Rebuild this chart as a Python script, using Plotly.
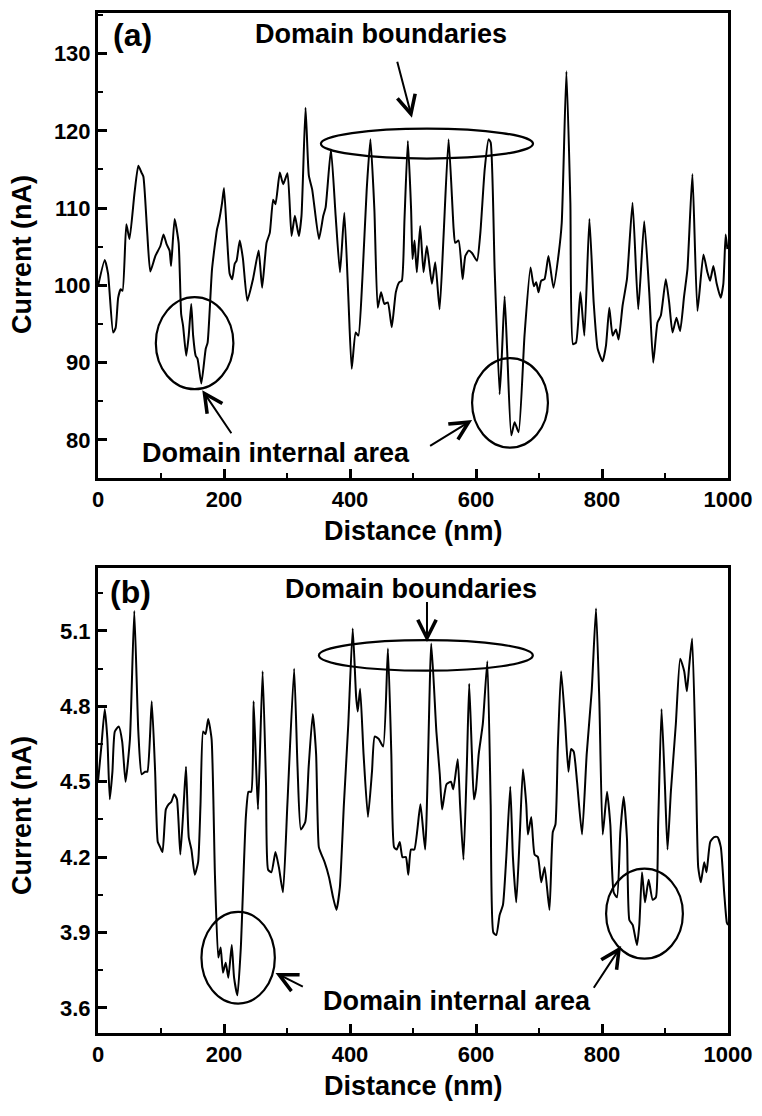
import plotly.graph_objects as go

# ---------------- data ----------------
xa = [0, 10.7, 16, 24, 28, 32, 36, 39, 45, 50, 58, 64, 69, 72, 78, 83, 91, 99, 104, 109,
      113.6, 116, 121.6, 128, 132, 135, 140, 144, 148, 151, 155, 158, 164, 171, 174, 181,
      189, 192, 197, 200, 205, 209, 213, 217, 220, 225, 230, 237, 246, 255, 260.5, 267.5,
      272.7, 278, 281.7, 288.6, 293.9, 300.8, 307.2, 312.5, 318.8, 323, 329.4, 334.7, 340,
      350.7, 357.6, 361.3, 369.8, 377.2, 384.1, 391, 397.3, 402.7, 409, 413.3, 419.6, 426.5,
      432.4, 438.7, 444, 449.3, 454.6, 460, 466.3, 472.7, 478, 482.2, 486.5, 491.8, 497,
      499.2, 502.4, 506.1, 511.4, 516.7, 522, 530, 535.3, 542.2, 548.5, 556.5, 564.5, 567,
      572.4, 578.8, 583, 588.3, 593.6, 601.6, 606.9, 613.8, 620, 623.3, 629.6, 637.5, 641.2,
      645.4, 649.6, 656, 661.3, 667.6, 677, 686.5, 691.8, 695.6, 699.2, 703.4, 708.7, 715,
      723, 731.4, 736.1, 743.5, 749.8, 754, 758.8, 765.7, 772, 780, 786.8, 793.1, 801, 806.3,
      811.6, 816.9, 822.2, 826.4, 832.7, 839.6, 848.5, 857.5, 867, 875, 881.3, 888.1, 893.4,
      901.3, 906.6, 911.9, 918.2, 924, 930.3, 935.6, 943.5, 951.5, 961, 967.3, 971.5, 976.8,
      982.1, 988.4, 992.6, 996.3, 999]
ya = [99.9, 103.3, 101.5, 93.9, 94.5, 98.4, 99.5, 99.3, 107.9, 106.0, 112, 115.5, 114.6, 114.1,
      107, 101.8, 103.8, 105.1, 106.6, 105.3, 104.5, 102.5, 108.6, 105.5, 96.3, 94.8, 90.9,
      93.5, 97.6, 93.5, 90.9, 90.5, 87.3, 91.8, 92.6, 102.1, 107.3, 108.3, 110.7, 112.6, 106,
      101.5, 100.8, 102.8, 103.2, 105.8, 103.5, 98, 100.8, 104.5, 99.7, 105.5, 106.8, 111.1,
      110.5, 114.6, 113.1, 114.5, 106.4, 109, 106.4, 109, 123, 114.2, 112.4, 106, 109, 110.1,
      117.6, 109, 101.7, 109.4, 98.6, 89.2, 93.9, 93.5, 100.8, 112.4, 118.9, 109.8, 97.1,
      99.1, 97.6, 97.8, 94.6, 99.1, 100.4, 100.6, 108.6, 118.7, 109.8, 103.4, 105.8, 101.7,
      107.7, 101.7, 105.1, 100.2, 103, 96.9, 106.4, 118.9, 107.3, 105.5, 105.8, 100.8, 103.8,
      104.5, 104.2, 103.2, 106.8, 115, 118.9, 118.5, 102.1, 85.9, 91.3, 98.6, 91.3, 80.6,
      82.3, 81, 93.5, 102.3, 99.9, 100.4, 99.1, 100.6, 100.8, 103.8, 99.7, 104.2, 108.1,
      127.7, 110.7, 92.4, 92.6, 99.1, 93.5, 108.6, 97.8, 91.8, 90.2, 92.2, 97.1, 93.5, 94.3,
      93, 97.4, 100.8, 110.7, 96.9, 108.3, 99.1, 90, 95.2, 96.1, 100.8, 97.8, 93.9, 95.8,
      94.1, 98.6, 102.1, 114.4, 96.7, 104, 101.7, 100.6, 102.5, 100.2, 98.4, 100.2, 106.6,
      104.7]

xb = [0, 5.3, 10.7, 14.9, 18.7, 22.9, 26.7, 33, 38.4, 43.7, 50.7, 57.6, 64, 69.3, 74.7, 78.4,
      85.3, 90.7, 94.9, 98.7, 102.4, 107.7, 112, 116.3, 121, 125.3, 130.7, 136, 139.7, 144,
      148.3, 153.6, 158.9, 162.7, 166.9, 170.7, 174.9, 180.3, 185.6, 190.9, 194.7, 198.4,
      202.7, 206.9, 212.3, 216, 221.3, 226.7, 234.7, 238.9, 243.2, 247, 251, 254, 261.3,
      266.7, 270, 275.3, 281.7, 287.1, 293.6, 300.6, 311.3, 316.7, 322, 329, 334.4, 340.9,
      346.2, 350.5, 354.8, 359.7, 366.7, 373.1, 378.5, 383.9, 390.3, 397.3, 404.3, 409.7,
      412.3, 416.1, 421.5, 428.5, 434.9, 439.2, 445.7, 452.7, 460.2, 465.6, 469.9, 474.2,
      479, 483.3, 488.7, 492.5, 496.8, 502.1, 511.8, 519.3, 529, 537.1, 542.5, 546.2, 553.2,
      560.2, 563.9, 571, 574.7, 580.1, 585.5, 589.2, 593.5, 596.7, 600, 604.3, 610.8, 618,
      623.3, 627.5, 632.2, 637.5, 642.8, 648.1, 654.4, 658.6, 663.9, 669.2, 674.5, 679.8,
      682.4, 687.7, 693, 698.3, 703.6, 708.9, 716.6, 721.9, 726.1, 729.8, 735.1, 741.4,
      746.7, 750.9, 755.1, 760.4, 768.3, 775.7, 783.6, 790.5, 795.8, 801.1, 808, 813.2,
      818.5, 823.8, 829.1, 834.4, 839.7, 843.4, 848.7, 855.5, 859.2, 863.5, 868.2, 874,
      880.4, 885.6, 889.2, 894.5, 899.8, 904, 909.3, 917.2, 924.1, 930.5, 934.7, 938.4,
      943.1, 949, 952.7, 956.9, 962.2, 965.9, 971.7, 978, 983.3, 988.6, 993.9, 998.1, 1000]
yb = [4.50, 4.64, 4.79, 4.67, 4.43, 4.54, 4.70, 4.72, 4.66, 4.50, 4.67, 5.18, 4.70, 4.53, 4.54,
      4.54, 4.82, 4.54, 4.26, 4.24, 4.22, 4.39, 4.41, 4.42, 4.45, 4.43, 4.21, 4.41, 4.56, 4.28,
      4.23, 4.13, 4.18, 4.41, 4.70, 4.69, 4.75, 4.67, 4.13, 3.80, 3.84, 3.74, 3.78, 3.72, 3.85,
      3.72, 3.65, 3.84, 4.36, 4.46, 4.46, 4.82, 4.56, 4.39, 4.94, 4.49, 4.15, 4.14, 4.22, 4.16,
      4.06, 4.41, 4.95, 4.56, 4.31, 4.34, 4.56, 4.77, 4.61, 4.24, 4.21, 4.18, 4.12, 4.04, 3.99,
      4.08, 4.41, 4.73, 5.11, 4.84, 4.78, 4.87, 4.61, 4.36, 4.54, 4.68, 4.67, 4.64, 5.03, 4.61,
      4.24, 4.23, 4.26, 4.20, 4.20, 4.13, 4.23, 4.23, 4.41, 4.23, 5.05, 4.70, 4.53, 4.39, 4.49,
      4.50, 4.47, 4.59, 4.41, 4.19, 4.57, 4.89, 4.61, 4.43, 4.47, 4.61, 4.73, 4.98, 4.41, 3.90,
      3.89, 3.97, 4.01, 4.20, 4.48, 4.20, 4.02, 4.27, 4.55, 4.41, 4.29, 4.36, 4.21, 4.20, 4.10,
      4.16, 3.99, 4.30, 4.33, 4.63, 4.94, 4.74, 4.54, 4.63, 4.62, 4.50, 4.29, 4.61, 4.86, 5.19,
      4.82, 4.29, 4.46, 4.33, 4.06, 4.04, 4.30, 4.44, 4.27, 3.95, 3.93, 3.85, 3.93, 4.14, 4.02,
      4.11, 4.03, 4.04, 4.34, 4.79, 4.49, 4.23, 4.46, 4.73, 4.99, 4.94, 4.86, 4.96, 5.07, 4.56,
      4.16, 4.10, 4.18, 4.14, 4.26, 4.28, 4.28, 4.24, 4.06, 3.94, 3.93]

x_ticks = [0, 200, 400, 600, 800, 1000]
ya_ticks = [80, 90, 100, 110, 120, 130]
yb_ticks = [3.6, 3.9, 4.2, 4.5, 4.8, 5.1]
yb_ticktext = ["3.6", "3.9", "4.2", "4.5", "4.8", "5.1"]

FONT = "Liberation Sans, Arial, sans-serif"
BLACK = "#000000"

fig = go.Figure()
fig.add_trace(go.Scatter(x=xa, y=ya, mode="lines", xaxis="x", yaxis="y",
                         line=dict(color=BLACK, width=2, shape="spline", smoothing=0.5),
                         showlegend=False, hoverinfo="skip"))
fig.add_trace(go.Scatter(x=xb, y=yb, mode="lines", xaxis="x2", yaxis="y2",
                         line=dict(color=BLACK, width=2, shape="spline", smoothing=0.5),
                         showlegend=False, hoverinfo="skip"))

tickfont = dict(family=FONT, size=22, color=BLACK, weight="bold")


def xax(anchor):
    return dict(anchor=anchor, domain=[0, 1], range=[0, 1000], tickvals=x_ticks,
                ticks="inside", ticklen=9, tickwidth=2.5, tickcolor=BLACK,
                minor=dict(dtick=100, tick0=0, ticks="inside", ticklen=5, tickwidth=2,
                           tickcolor=BLACK),
                showline=True, linewidth=3, linecolor=BLACK, mirror=True,
                showgrid=False, zeroline=False, tickfont=tickfont)


def yax(anchor, domain, rng, tv, tt, minor_dtick, minor_tick0):
    d = dict(anchor=anchor, domain=domain, range=rng, tickvals=tv,
             ticks="inside", ticklen=9, tickwidth=2.5, tickcolor=BLACK,
             minor=dict(dtick=minor_dtick, tick0=minor_tick0, ticks="inside", ticklen=5,
                        tickwidth=2, tickcolor=BLACK),
             showline=True, linewidth=3, linecolor=BLACK, mirror=True,
             showgrid=False, zeroline=False, tickfont=tickfont)
    if tt is not None:
        d["ticktext"] = tt
    return d


fig.update_layout(
    width=762, height=1116,
    margin=dict(l=98, r=31, t=10, b=83),
    paper_bgcolor="white", plot_bgcolor="white",
    xaxis=xax("y"),
    yaxis=yax("x", [0.5443, 1.0], [75.1, 135.25], ya_ticks, None, 5, 0),
    xaxis2=xax("y2"),
    yaxis2=yax("x2", [0.0, 0.4557], [3.5, 5.35], yb_ticks, yb_ticktext, 0.15, 3.6),
)

txt = dict(family=FONT, size=27, color=BLACK, weight="bold")
ann = []
# axis titles
ann.append(dict(text="Distance (nm)", xref="paper", yref="paper", x=0.5, y=0.4922,
                showarrow=False, font=txt, xanchor="center", yanchor="middle"))
ann.append(dict(text="Distance (nm)", xref="paper", yref="paper", x=0.5, y=-0.052,
                showarrow=False, font=txt, xanchor="center", yanchor="middle"))
ann.append(dict(text="Current (nA)", xref="paper", yref="paper", x=-0.1203, y=0.7629,
                textangle=-90, showarrow=False, font=txt, xanchor="center", yanchor="middle"))
ann.append(dict(text="Current (nA)", xref="paper", yref="paper", x=-0.1203, y=0.2129,
                textangle=-90, showarrow=False, font=txt, xanchor="center", yanchor="middle"))
# panel labels
big = dict(family=FONT, size=32, color=BLACK, weight="bold")
ann.append(dict(text="(a)", xref="x", yref="y", x=54.9, y=132.45, showarrow=False, font=big))
ann.append(dict(text="(b)", xref="x2", yref="y2", x=51.9, y=5.256, showarrow=False, font=big))
# text labels
ann.append(dict(text="Domain boundaries", xref="x", yref="y", x=449.8, y=132.5,
                showarrow=False, font=txt))
ann.append(dict(text="Domain internal area", xref="x", yref="y", x=282.7, y=78.35,
                showarrow=False, font=txt))
ann.append(dict(text="Domain boundaries", xref="x2", yref="y2", x=496.6, y=5.268,
                showarrow=False, font=txt))
ann.append(dict(text="Domain internal area", xref="x2", yref="y2", x=569.4, y=3.627,
                showarrow=False, font=txt))


def arrow(xr, yr, x, y, ax, ay):
    return dict(text="", xref=xr, yref=yr, axref=xr, ayref=yr, x=x, y=y, ax=ax, ay=ay,
                showarrow=True, arrowhead=5, arrowsize=1.8, arrowwidth=2, arrowcolor=BLACK)


ann.append(arrow("x", "y", 498.3, 121.7, 474.4, 129.15))
ann.append(arrow("x", "y", 165.5, 86.44, 213.3, 80.67))
ann.append(arrow("x", "y", 593.8, 82.57, 524.8, 79.1))
ann.append(arrow("x2", "y2", 522.2, 5.056, 522.2, 5.221))
ann.append(arrow("x2", "y2", 281.8, 3.739, 327.5, 3.682))
ann.append(arrow("x2", "y2", 830.4, 3.846, 785.4, 3.674))
fig.update_layout(annotations=ann)

shp = dict(type="circle", line=dict(color=BLACK, width=2.2), fillcolor="rgba(0,0,0,0)")
shapes = [
    dict(shp, xref="x", yref="y", x0=353.8, x1=690.5, y0=116.41, y1=120.28),
    dict(shp, xref="x", yref="y", x0=91.8, x1=214.9, y0=86.57, y1=98.48),
    dict(shp, xref="x", yref="y", x0=593.8, x1=714.2, y0=79.0, y1=90.6),
    dict(shp, xref="x2", yref="y2", x0=350.6, x1=690.2, y0=4.942, y1=5.0635),
    dict(shp, xref="x2", yref="y2", x0=164.2, x1=280.7, y0=3.617, y1=3.982),
    dict(shp, xref="x2", yref="y2", x0=806.5, x1=928.4, y0=3.796, y1=4.154),
]
fig.update_layout(shapes=shapes)

fig.write_html("out.html")
